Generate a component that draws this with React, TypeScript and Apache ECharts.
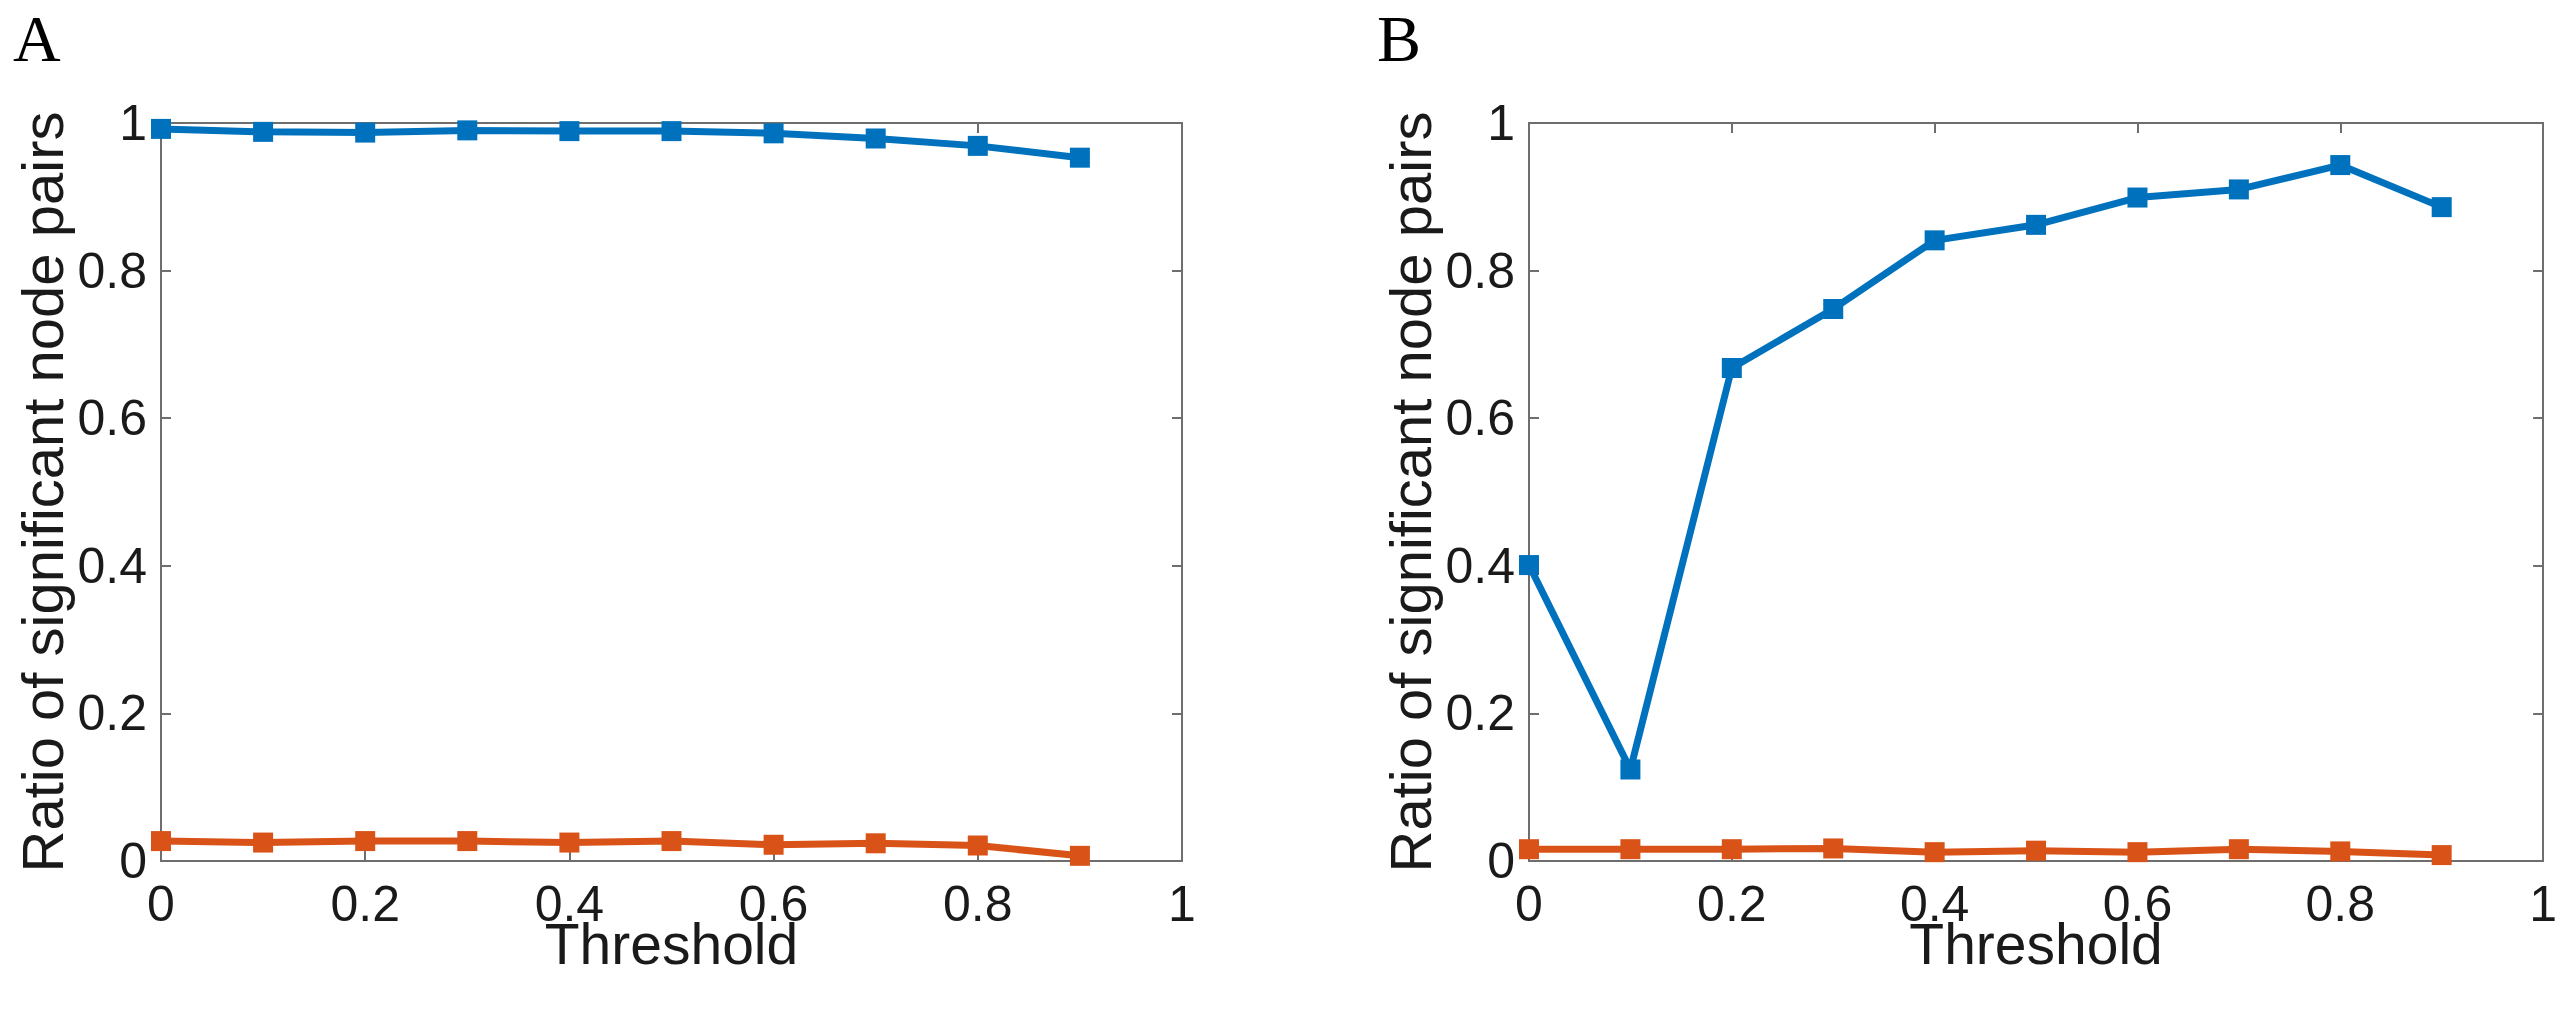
import React, { useEffect, useRef } from "react";
import * as echarts from "echarts";

const thresholds = [0, 0.1, 0.2, 0.3, 0.4, 0.5, 0.6, 0.7, 0.8, 0.9];
const panelABlue = [0.992, 0.988, 0.987, 0.99, 0.989, 0.989, 0.986, 0.979, 0.969, 0.953];
const panelAOrange = [0.027, 0.025, 0.027, 0.027, 0.025, 0.027, 0.022, 0.024, 0.021, 0.007];
const panelBBlue = [0.401, 0.124, 0.668, 0.748, 0.841, 0.862, 0.899, 0.91, 0.943, 0.886];
const panelBOrange = [0.016, 0.016, 0.016, 0.017, 0.012, 0.014, 0.012, 0.016, 0.013, 0.008];
const panelLabels = ["A", "B"];
const xTitle = "Threshold";
const yTitle = "Ratio of significant node pairs";

const BLUE = "#0072BD";
const ORANGE = "#D95319";
const AXIS = "#6e6e6e";
const TEXT = "#1a1a1a";
const FONT = "'Liberation Sans', Arial, Helvetica, sans-serif";

export default function App() {
  const ref = useRef<HTMLDivElement>(null);
  useEffect(() => {
    if (!ref.current) return;
    const chart = echarts.init(ref.current, null, { renderer: "svg" });
    const grids = [
      { left: 161, top: 123, width: 1021, height: 738 },
      { left: 1529, top: 123, width: 1020, height: 738 },
    ];
    const lineSt = { show: true, onZero: false, lineStyle: { color: AXIS, width: 2 } };
    const tickSt = { show: true, inside: true, length: 10, lineStyle: { color: AXIS, width: 2 } };
    const xAxes: any[] = [];
    const yAxes: any[] = [];
    grids.forEach((_, gi) => {
      xAxes.push({
        type: "value",
        gridIndex: gi,
        min: 0,
        max: 1,
        interval: 0.2,
        position: "bottom",
        name: xTitle,
        nameLocation: "middle",
        nameGap: 62,
        nameMoveOverlap: false,
        nameTextStyle: { fontFamily: FONT, fontSize: 57, lineHeight: 42, color: TEXT },
        axisLine: lineSt,
        axisTick: tickSt,
        axisLabel: { fontFamily: FONT, fontSize: 50, lineHeight: 36, color: TEXT, margin: 25 },
        splitLine: { show: false },
      });
      xAxes.push({
        type: "value",
        gridIndex: gi,
        min: 0,
        max: 1,
        interval: 0.2,
        position: "top",
        axisLine: lineSt,
        axisTick: tickSt,
        axisLabel: { show: false },
        splitLine: { show: false },
      });
      yAxes.push({
        type: "value",
        gridIndex: gi,
        min: 0,
        max: 1,
        interval: 0.2,
        position: "left",
        name: yTitle,
        nameLocation: "middle",
        nameRotate: 90,
        nameGap: 90,
        nameMoveOverlap: false,
        nameTextStyle: { fontFamily: FONT, fontSize: 58, color: TEXT },
        axisLine: lineSt,
        axisTick: tickSt,
        axisLabel: { fontFamily: FONT, fontSize: 50, color: TEXT, margin: 14 },
        splitLine: { show: false },
      });
      yAxes.push({
        type: "value",
        gridIndex: gi,
        min: 0,
        max: 1,
        interval: 0.2,
        position: "right",
        axisLine: lineSt,
        axisTick: tickSt,
        axisLabel: { show: false },
        splitLine: { show: false },
      });
    });
    const mk = (vals: number[], color: string, gi: number) => ({
      type: "line",
      xAxisIndex: gi * 2,
      yAxisIndex: gi * 2,
      data: thresholds.map((t, i) => [t, vals[i]]),
      symbol: "rect",
      symbolSize: 20,
      showSymbol: true,
      clip: false,
      lineStyle: { color, width: 7 },
      itemStyle: { color, borderWidth: 0 },
      z: 3,
    });
    const letter = (text: string, x: number) => ({
      type: "text",
      x,
      y: 5,
      style: {
        text,
        fontFamily: "'Liberation Serif', 'Times New Roman', serif",
        fontSize: 66,
        lineHeight: 66,
        fill: "#000",
        verticalAlign: "top",
      },
    });
    chart.setOption({
      animation: false,
      backgroundColor: "#ffffff",
      grid: grids,
      xAxis: xAxes,
      yAxis: yAxes,
      series: [
        mk(panelABlue, BLUE, 0),
        mk(panelAOrange, ORANGE, 0),
        mk(panelBBlue, BLUE, 1),
        mk(panelBOrange, ORANGE, 1),
      ],
      graphic: [letter(panelLabels[0], 13), letter(panelLabels[1], 1377)],
    });
    return () => chart.dispose();
  }, []);
  return (
    <div
      ref={ref}
      style={{ position: "fixed", left: 0, top: 0, width: 2560, height: 1010, background: "#fff" }}
    />
  );
}
